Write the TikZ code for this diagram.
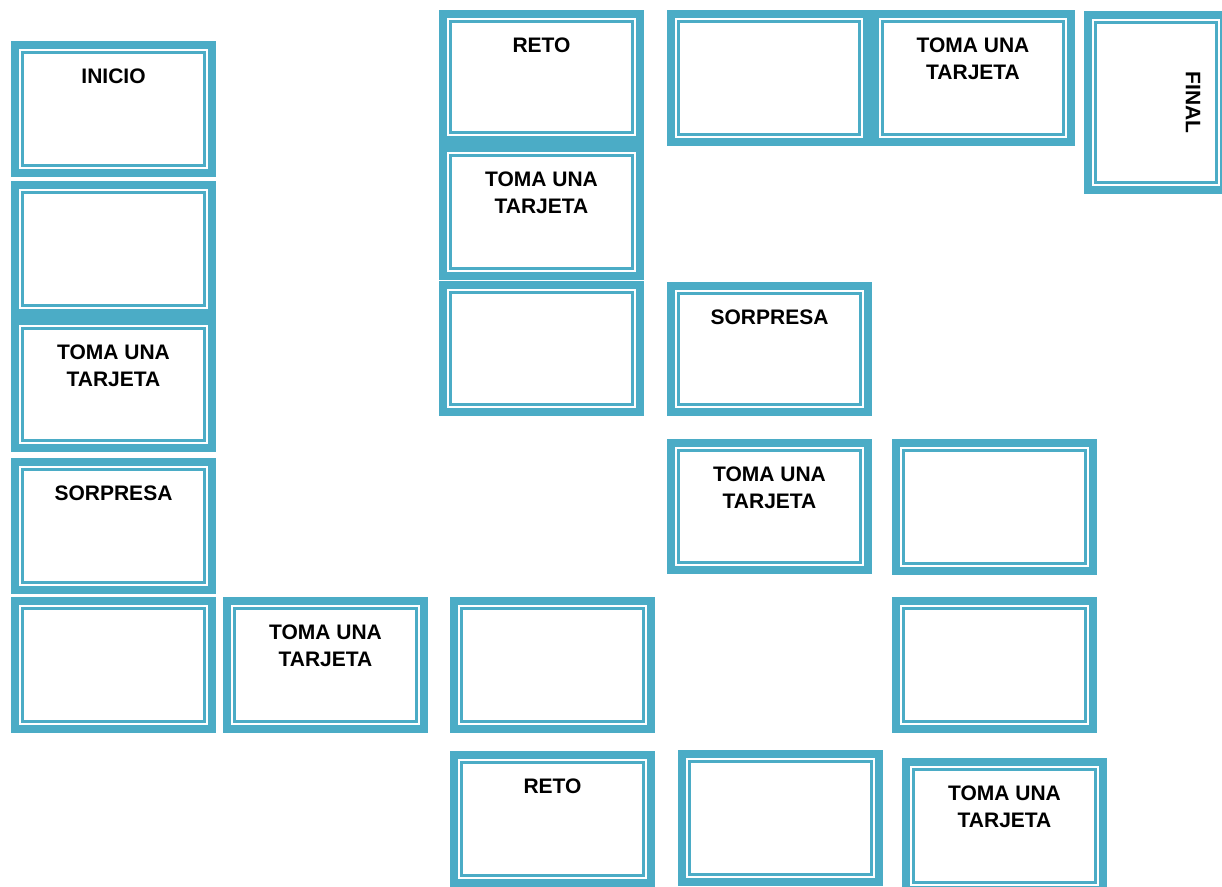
\documentclass[tikz,border=0pt]{standalone}
\usepackage{fontspec}
\setmainfont{Liberation Sans}
\definecolor{cardblue}{HTML}{4BACC6}
\tikzset{
  card/.style={draw=cardblue, line width=8pt, fill=white, inner sep=0pt,
    path picture={\draw[cardblue, line width=2.5pt]
      ([shift={(7.5pt,-7.5pt)}]path picture bounding box.north west) rectangle
      ([shift={(-7.5pt,7.5pt)}]path picture bounding box.south east);}},
  lbl/.style={anchor=north, inner sep=0pt, align=center,
    font=\fontsize{21}{27.5}\selectfont\bfseries}
}
\newcommand\mkcard[5]{%
  \node[card, minimum width={#4-#2-8}, minimum height={#5-#3-8}]
    (#1) at ({(#2+#4)/2},{(#3+#5)/2}) {};}
\newcommand\mklabel[2]{%
  \node[lbl] (#1t) at ([yshift=-27.5pt]#1.north) {#2};}
\begin{document}
\begin{tikzpicture}[x=1pt,y=-1pt]
\clip (0,0) rectangle (1222,886);
\fill[white] (0,0) rectangle (1222,886);
% column 1
\mkcard{a1}{11}{41}{216}{177}
\mkcard{a2}{11}{181}{216}{317}
\mkcard{a3}{11}{317}{216}{452}
\mkcard{a4}{11}{458}{216}{594}
\mkcard{a5}{11}{597}{216}{733}
\mkcard{a6}{223}{597}{428}{733}
% column 3 top
\mkcard{c1}{439}{10}{644}{144}
\mkcard{c2}{439}{144}{644}{280}
\mkcard{c3}{439}{281}{644}{416}
% lower middle
\mkcard{b7}{450}{597}{655}{733}
\mkcard{b8}{450}{751}{655}{887}
\mkcard{b9}{678}{750}{883}{886}
\mkcard{b10}{902}{758}{1107}{894}
% column 4
\mkcard{d1}{667}{282}{872}{416}
\mkcard{d2}{667}{439}{872}{574}
% column 5
\mkcard{e1}{892}{439}{1097}{575}
\mkcard{e2}{892}{597}{1097}{733}
% top row
\mkcard{f1}{667}{10}{871}{146}
\mkcard{f2}{871}{10}{1075}{146}
\mkcard{fin}{1084}{11}{1228}{194}
% labels
\mklabel{a1}{INICIO}
\mklabel{a3}{TOMA UNA\\TARJETA}
\mklabel{a4}{SORPRESA}
\mklabel{a6}{TOMA UNA\\TARJETA}
\mklabel{c1}{RETO}
\mklabel{c2}{TOMA UNA\\TARJETA}
\mklabel{b8}{RETO}
\mklabel{b10}{TOMA UNA\\TARJETA}
\mklabel{d1}{SORPRESA}
\mklabel{d2}{TOMA UNA\\TARJETA}
\mklabel{f2}{TOMA UNA\\TARJETA}
\node[lbl, rotate=-90] (fint) at ([xshift=-27.5pt]fin.east) {FINAL};
\end{tikzpicture}
\end{document}
